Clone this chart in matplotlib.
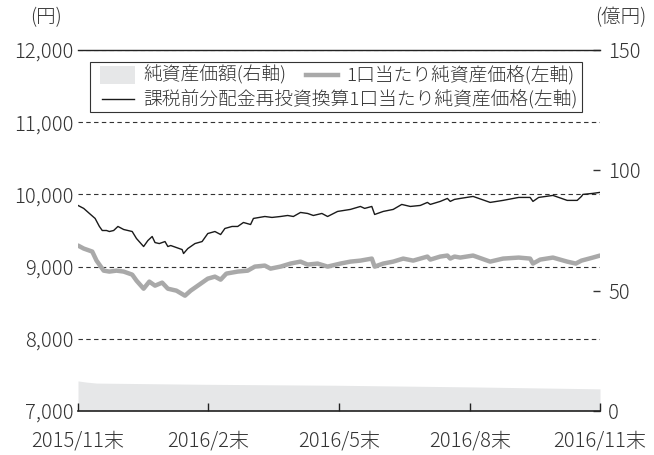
import pandas as pd
import matplotlib
matplotlib.use("Agg")
import matplotlib.pyplot as plt
from matplotlib.patches import Rectangle
from matplotlib.lines import Line2D

plt.rcParams['font.family'] = ['Noto Sans CJK JP', 'DejaVu Sans']
plt.rcParams['font.weight'] = 'light'

START = pd.Timestamp("2015-11-30")

# 課税前分配金再投資換算1口当たり純資産価格 (days from start, yen)
reinv_days = [0, 4, 8, 12, 15, 17, 20, 22, 25, 28, 32, 38, 41, 46, 49, 52, 54, 57, 61, 63,
              65, 69, 73, 74, 77, 82, 87, 91, 96, 100, 103, 108, 112, 116, 121, 123, 131,
              136, 142, 147, 151, 156, 161, 165, 171, 175, 182, 191, 198, 201, 206, 208,
              214, 221, 227, 233, 240, 245, 247, 254, 259, 261, 264, 268, 277, 289, 298,
              309, 317, 319, 323, 333, 343, 350, 353, 354, 361, 366]
reinv_vals = [9847, 9806, 9736, 9667, 9556, 9500, 9500, 9486, 9500, 9556, 9514, 9486, 9389,
              9278, 9361, 9417, 9333, 9319, 9347, 9278, 9292, 9264, 9236, 9181, 9250, 9319,
              9347, 9458, 9486, 9444, 9528, 9556, 9556, 9611, 9583, 9667, 9694, 9681, 9694,
              9708, 9694, 9750, 9736, 9708, 9736, 9694, 9764, 9792, 9833, 9806, 9833, 9722,
              9764, 9792, 9861, 9833, 9847, 9889, 9861, 9903, 9944, 9903, 9931, 9944, 9972,
              9889, 9917, 9958, 9958, 9903, 9958, 9986, 9917, 9917, 9972, 10000, 10014, 10028]

# 1口当たり純資産価格 (days from start, yen)
nav_days = [0, 4, 10, 13, 18, 22, 27, 32, 38, 41, 46, 50, 54, 59, 63, 69, 75, 79, 84, 91,
            96, 100, 104, 112, 119, 124, 131, 135, 142, 149, 156, 161, 168, 175, 184, 191,
            198, 206, 208, 214, 221, 228, 235, 240, 245, 247, 254, 259, 261, 264, 268, 277,
            289, 298, 309, 317, 319, 324, 333, 343, 349, 353, 361, 366]
nav_vals = [9292, 9250, 9208, 9083, 8944, 8931, 8944, 8931, 8889, 8806, 8694, 8792, 8736,
            8778, 8694, 8667, 8597, 8667, 8736, 8833, 8861, 8819, 8903, 8931, 8944, 9000,
            9014, 8972, 9000, 9042, 9069, 9028, 9042, 9000, 9042, 9069, 9083, 9111, 9000,
            9042, 9069, 9111, 9083, 9111, 9139, 9097, 9139, 9153, 9111, 9139, 9125, 9153,
            9069, 9111, 9125, 9111, 9042, 9097, 9125, 9069, 9042, 9083, 9125, 9153]

# 純資産価額 (days from start, 億円)
aum_days = [0, 6, 13, 88, 181, 277, 366]
aum_vals = [12.5, 12.0, 11.6, 11.1, 10.7, 10.0, 9.2]

tick_dates = ["2015-11-30", "2016-02-29", "2016-05-31", "2016-08-31", "2016-11-30"]
tick_labels = ["2015/11末", "2016/2末", "2016/5末", "2016/8末", "2016/11末"]
left_ticks = [7000, 8000, 9000, 10000, 11000, 12000]
right_ticks = [0, 50, 100, 150]

TXT = "#333333"
GRAY = "#a9a9a9"
FILL = "#e6e7e8"
FS = 14.5

def to_dates(days):
    return START + pd.to_timedelta(days, unit="D")

W, H = 654, 455
fig = plt.figure(figsize=(W / 100, H / 100), dpi=100)
ax = fig.add_axes([78 / W, 1 - 411 / H, 522 / W, 361 / H])
ax2 = ax.twinx()

ax2.fill_between(to_dates(aum_days), 0, aum_vals, color=FILL, lw=0)
ax.plot(to_dates(nav_days), nav_vals, color=GRAY, lw=3.2, solid_capstyle="round")
ax.plot(to_dates(reinv_days), reinv_vals, color="#1a1a1a", lw=1.0)

ax.set_zorder(ax2.get_zorder() + 1)
ax.patch.set_visible(False)

ax.set_xlim(pd.Timestamp("2015-11-30"), pd.Timestamp("2016-11-30"))
ax.set_ylim(7000, 12000)
ax2.set_ylim(0, 150)

ax.set_yticks(left_ticks)
ax.set_yticklabels([f"{v:,}" for v in left_ticks])
ax2.set_yticks(right_ticks)
ax.set_xticks(pd.to_datetime(tick_dates))
ax.set_xticklabels(tick_labels)

for a in (ax, ax2):
    for s in ("left", "right", "top", "bottom"):
        a.spines[s].set_visible(False)
for s in ("top", "bottom"):
    ax.spines[s].set_visible(True)
    ax.spines[s].set_color("#222222")
ax.spines["top"].set_linewidth(1.0)
ax.spines["bottom"].set_linewidth(1.2)

ax.yaxis.grid(True, linestyle=(0, (4, 3)), color="#333333", lw=0.8)
ax.tick_params(axis="y", length=0, pad=3, labelsize=FS, labelcolor=TXT)
ax.tick_params(axis="x", direction="in", length=6, width=1, color="#222222",
               pad=14, labelsize=FS, labelcolor=TXT)
ax2.tick_params(axis="y", direction="in", length=5, width=1, color="#333333",
                pad=6, labelsize=FS, labelcolor=TXT)

fig.text(46 / W, 1 - 18 / H, "(円)", ha="center", va="center", fontsize=14, color=TXT)
fig.text(621 / W, 1 - 18 / H, "(億円)", ha="center", va="center", fontsize=14, color=TXT)

# legend drawn by hand to get the two-row layout
def px(x, y):
    return x / W, 1 - y / H

tf = fig.transFigure
x0, y0 = px(90, 112)
x1, y1 = px(582, 62)
fig.patches.append(Rectangle((x0, y0), x1 - x0, y1 - y0, transform=tf, facecolor="white",
                             edgecolor="#333333", lw=0.8, zorder=5))
bx, by = px(100, 84)
bx2, by2 = px(135, 66)
fig.patches.append(Rectangle((bx, by), bx2 - bx, by2 - by, transform=tf, facecolor=FILL,
                             lw=0, zorder=6))
fig.lines.append(Line2D([306 / W, 338 / W], [1 - 75 / H] * 2, transform=tf, color=GRAY,
                        lw=3.2, zorder=6))
fig.lines.append(Line2D([102 / W, 134 / W], [1 - 99 / H] * 2, transform=tf,
                        color="#1a1a1a", lw=1.0, zorder=6))
LFS = 13.5
fig.text(*px(143, 75), "純資産価額(右軸)", ha="left", va="center", fontsize=LFS,
         color=TXT, zorder=7)
fig.text(*px(346, 75), "1口当たり純資産価格(左軸)", ha="left", va="center", fontsize=LFS,
         color=TXT, zorder=7)
fig.text(*px(143, 99), "課税前分配金再投資換算1口当たり純資産価格(左軸)", ha="left",
         va="center", fontsize=LFS, color=TXT, zorder=7)

fig.savefig("out.png", dpi=100)
